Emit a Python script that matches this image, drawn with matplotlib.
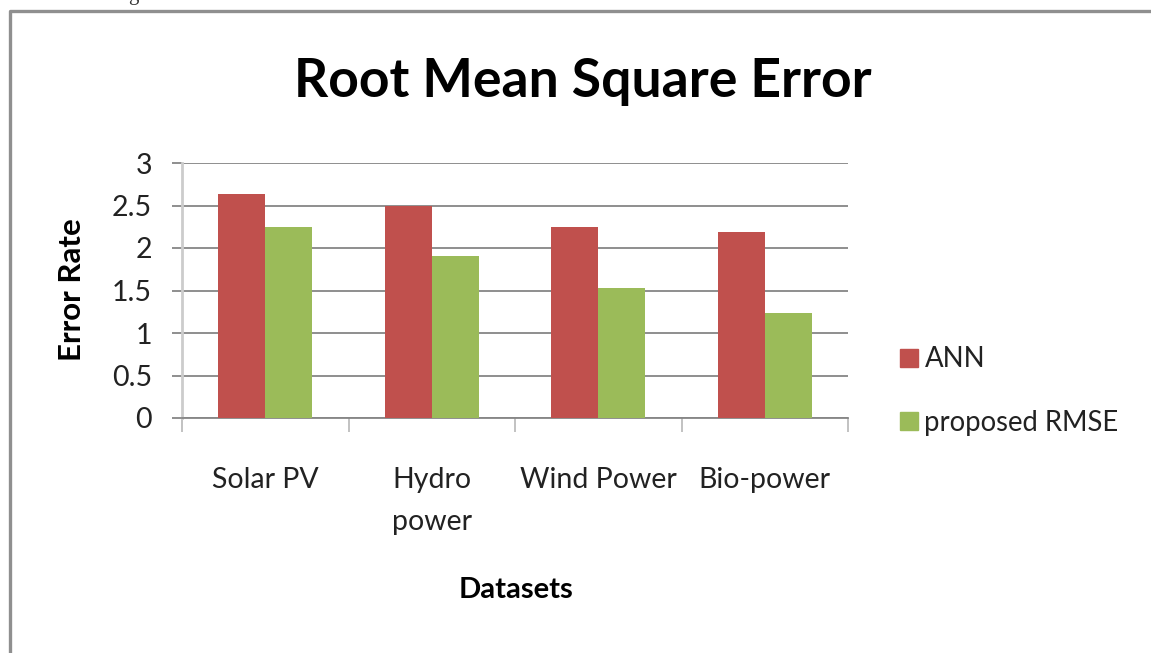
import matplotlib.pyplot as plt
import numpy as np
from matplotlib.lines import Line2D
from matplotlib.patches import Patch

# data
datasets = ['Solar PV', 'Hydro\npower', 'Wind Power', 'Bio-power']
ann = [2.64, 2.49, 2.25, 2.19]
proposed = [2.25, 1.91, 1.53, 1.23]
series_names = ['ANN', 'proposed RMSE']
yticks = [0, 0.5, 1, 1.5, 2, 2.5, 3]
ytick_labels = ['0', '0.5', '1', '1.5', '2', '2.5', '3']

red = '#C0504D'
green = '#9BBB59'
grid_col = '#868686'
txt_col = '#222222'

plt.rcParams['font.family'] = ['Lato', 'DejaVu Sans']

W, H = 1151, 653
fig = plt.figure(figsize=(W / 100, H / 100), dpi=100)

# outer frame (only top and left edges visible)
fig.add_artist(Line2D([10 / W, 10 / W, 1.01], [-0.01, 1 - 11 / H, 1 - 11 / H],
                      transform=fig.transFigure, color='#8f8f8f', lw=2.4))
# clipped descender of a line of text above the chart
fig.text(133 / W, 1.0, 'g', family='Liberation Serif', fontsize=15,
         va='baseline', ha='center', color='#333333')

ax = fig.add_axes([182 / W, 1 - 418 / H, 666 / W, 255 / H])

x = np.arange(len(datasets))
bw = 0.282
ax.bar(x - bw / 2, ann, bw, color=red, label=series_names[0], zorder=3)
ax.bar(x + bw / 2, proposed, bw, color=green, label=series_names[1], zorder=3)

ax.set_xlim(-0.5, len(datasets) - 0.5)
ax.set_ylim(0, 3)

# horizontal gridlines + outward y ticks
ax.set_yticks(yticks)
ax.set_yticklabels(ytick_labels, fontsize=20.5, color=txt_col)
ax.yaxis.grid(True, color=grid_col, lw=1.3, zorder=0)
ax.tick_params(axis='y', length=7.5, width=1.3, color=grid_col, pad=14)

# category boundaries as major ticks, labels on minor ticks
ax.set_xticks(np.arange(-0.5, len(datasets), 1.0))
ax.set_xticklabels([])
ax.tick_params(axis='x', which='major', length=10, width=1.3, color='#bdbdbd')
ax.set_xticks(x, minor=True)
ax.set_xticklabels(datasets, minor=True, fontsize=20.5, color=txt_col, linespacing=1.78, va='top')
ax.tick_params(axis='x', which='minor', length=0, pad=35)

for s in ['top', 'right']:
    ax.spines[s].set_visible(False)
ax.spines['bottom'].set_color(grid_col)
ax.spines['bottom'].set_linewidth(1.3)
ax.spines['left'].set_color('#cccccc')
ax.spines['left'].set_linewidth(2)

fig.text(583 / W, 1 - 81 / H, 'Root Mean Square Error', fontsize=38.5,
         fontweight='bold', ha='center', va='center')
fig.text(72 / W, 1 - 290 / H, 'Error Rate', fontsize=22.5, fontweight='bold',
         rotation=90, ha='center', va='center')
fig.text(516 / W, 1 - 590 / H, 'Datasets', fontsize=21, fontweight='bold',
         ha='center', va='center')

handles = [Patch(color=red), Patch(color=green)]
fig.legend(handles, series_names, loc='center left',
           bbox_to_anchor=(886 / W, 1 - 391 / H), frameon=False, fontsize=19.8,
           handlelength=0.65, handleheight=0.65, handletextpad=0.25, labelspacing=1.35,
           borderpad=0, labelcolor=txt_col)

fig.savefig('out.png', dpi=100)
